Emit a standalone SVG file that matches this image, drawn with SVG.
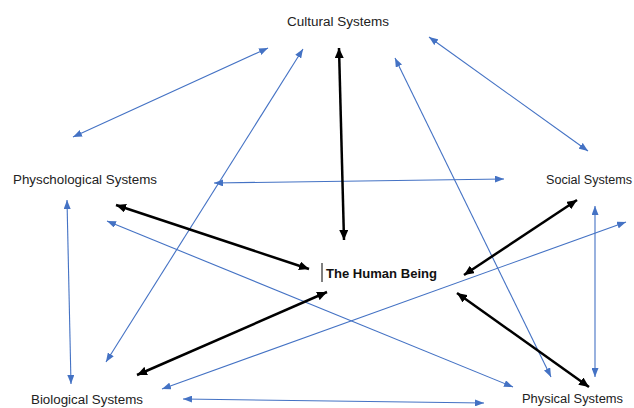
<svg xmlns="http://www.w3.org/2000/svg" width="634" height="408" viewBox="0 0 634 408">
  <style>
    text { font-family: "Liberation Sans", Arial, sans-serif; font-size: 12.5px; fill: #222; }
    .bold { font-weight: bold; font-size: 13px; fill: #111; }
    .blue { stroke: #4472C4; stroke-width: 1.1; fill: none; marker-start: url(#hb); marker-end: url(#hb); }
    .black { stroke: #000; stroke-width: 2.5; fill: none; marker-start: url(#hk); marker-end: url(#hk); }
  </style>
  <defs>
    <marker id="hb" markerUnits="userSpaceOnUse" viewBox="0 0 9 7" refX="9" refY="3.5" markerWidth="9" markerHeight="7" orient="auto-start-reverse">
      <path d="M0,0 L9,3.5 L0,7 z" fill="#4472C4"/>
    </marker>
    <marker id="hk" markerUnits="userSpaceOnUse" viewBox="0 0 10 9" refX="10" refY="4.5" markerWidth="10" markerHeight="9" orient="auto-start-reverse">
      <path d="M0,0 L10,4.5 L0,9 z" fill="#000"/>
    </marker>
  </defs>

  <rect width="634" height="408" fill="#fff"/>

  <!-- connectors -->
  <g id="connectors">
    <!-- blue links between outer systems -->
    <line class="blue" x1="73" y1="137" x2="268" y2="48"/>
    <line class="blue" x1="106" y1="362" x2="303" y2="49"/>
    <line class="blue" x1="214" y1="183" x2="504" y2="179"/>
    <line class="blue" x1="551" y1="377" x2="395" y2="58"/>
    <line class="blue" x1="588" y1="151" x2="429" y2="37"/>
    <line class="blue" x1="67" y1="200" x2="71" y2="384"/>
    <line class="blue" x1="107" y1="221" x2="513" y2="387"/>
    <line class="blue" x1="162" y1="389" x2="626" y2="222"/>
    <line class="blue" x1="183" y1="399" x2="484" y2="403"/>
    <line class="blue" x1="595" y1="206" x2="595" y2="377"/>
    <!-- black links to the centre -->
    <line class="black" x1="339" y1="48" x2="344" y2="240"/>
    <line class="black" x1="116" y1="205" x2="309" y2="269"/>
    <line class="black" x1="137" y1="375" x2="327" y2="292"/>
    <line class="black" x1="577" y1="200" x2="464" y2="275"/>
    <line class="black" x1="457" y1="293" x2="589" y2="387"/>
  </g>

  <g id="cultural">
    <text x="287" y="26" textLength="102" lengthAdjust="spacingAndGlyphs">Cultural Systems</text>
  </g>
  <g id="psychological">
    <text x="13" y="184" textLength="144" lengthAdjust="spacingAndGlyphs">Physchological Systems</text>
  </g>
  <g id="social">
    <text x="546" y="184" textLength="86" lengthAdjust="spacingAndGlyphs">Social Systems</text>
  </g>
  <g id="human">
    <line x1="322" y1="263" x2="322" y2="282" stroke="#000" stroke-width="1"/>
    <text class="bold" x="326" y="278" textLength="111" lengthAdjust="spacingAndGlyphs">The Human Being</text>
  </g>
  <g id="biological">
    <text x="31" y="404" textLength="112" lengthAdjust="spacingAndGlyphs">Biological Systems</text>
  </g>
  <g id="physical">
    <text x="522" y="403" textLength="101" lengthAdjust="spacingAndGlyphs">Physical Systems</text>
  </g>
</svg>
